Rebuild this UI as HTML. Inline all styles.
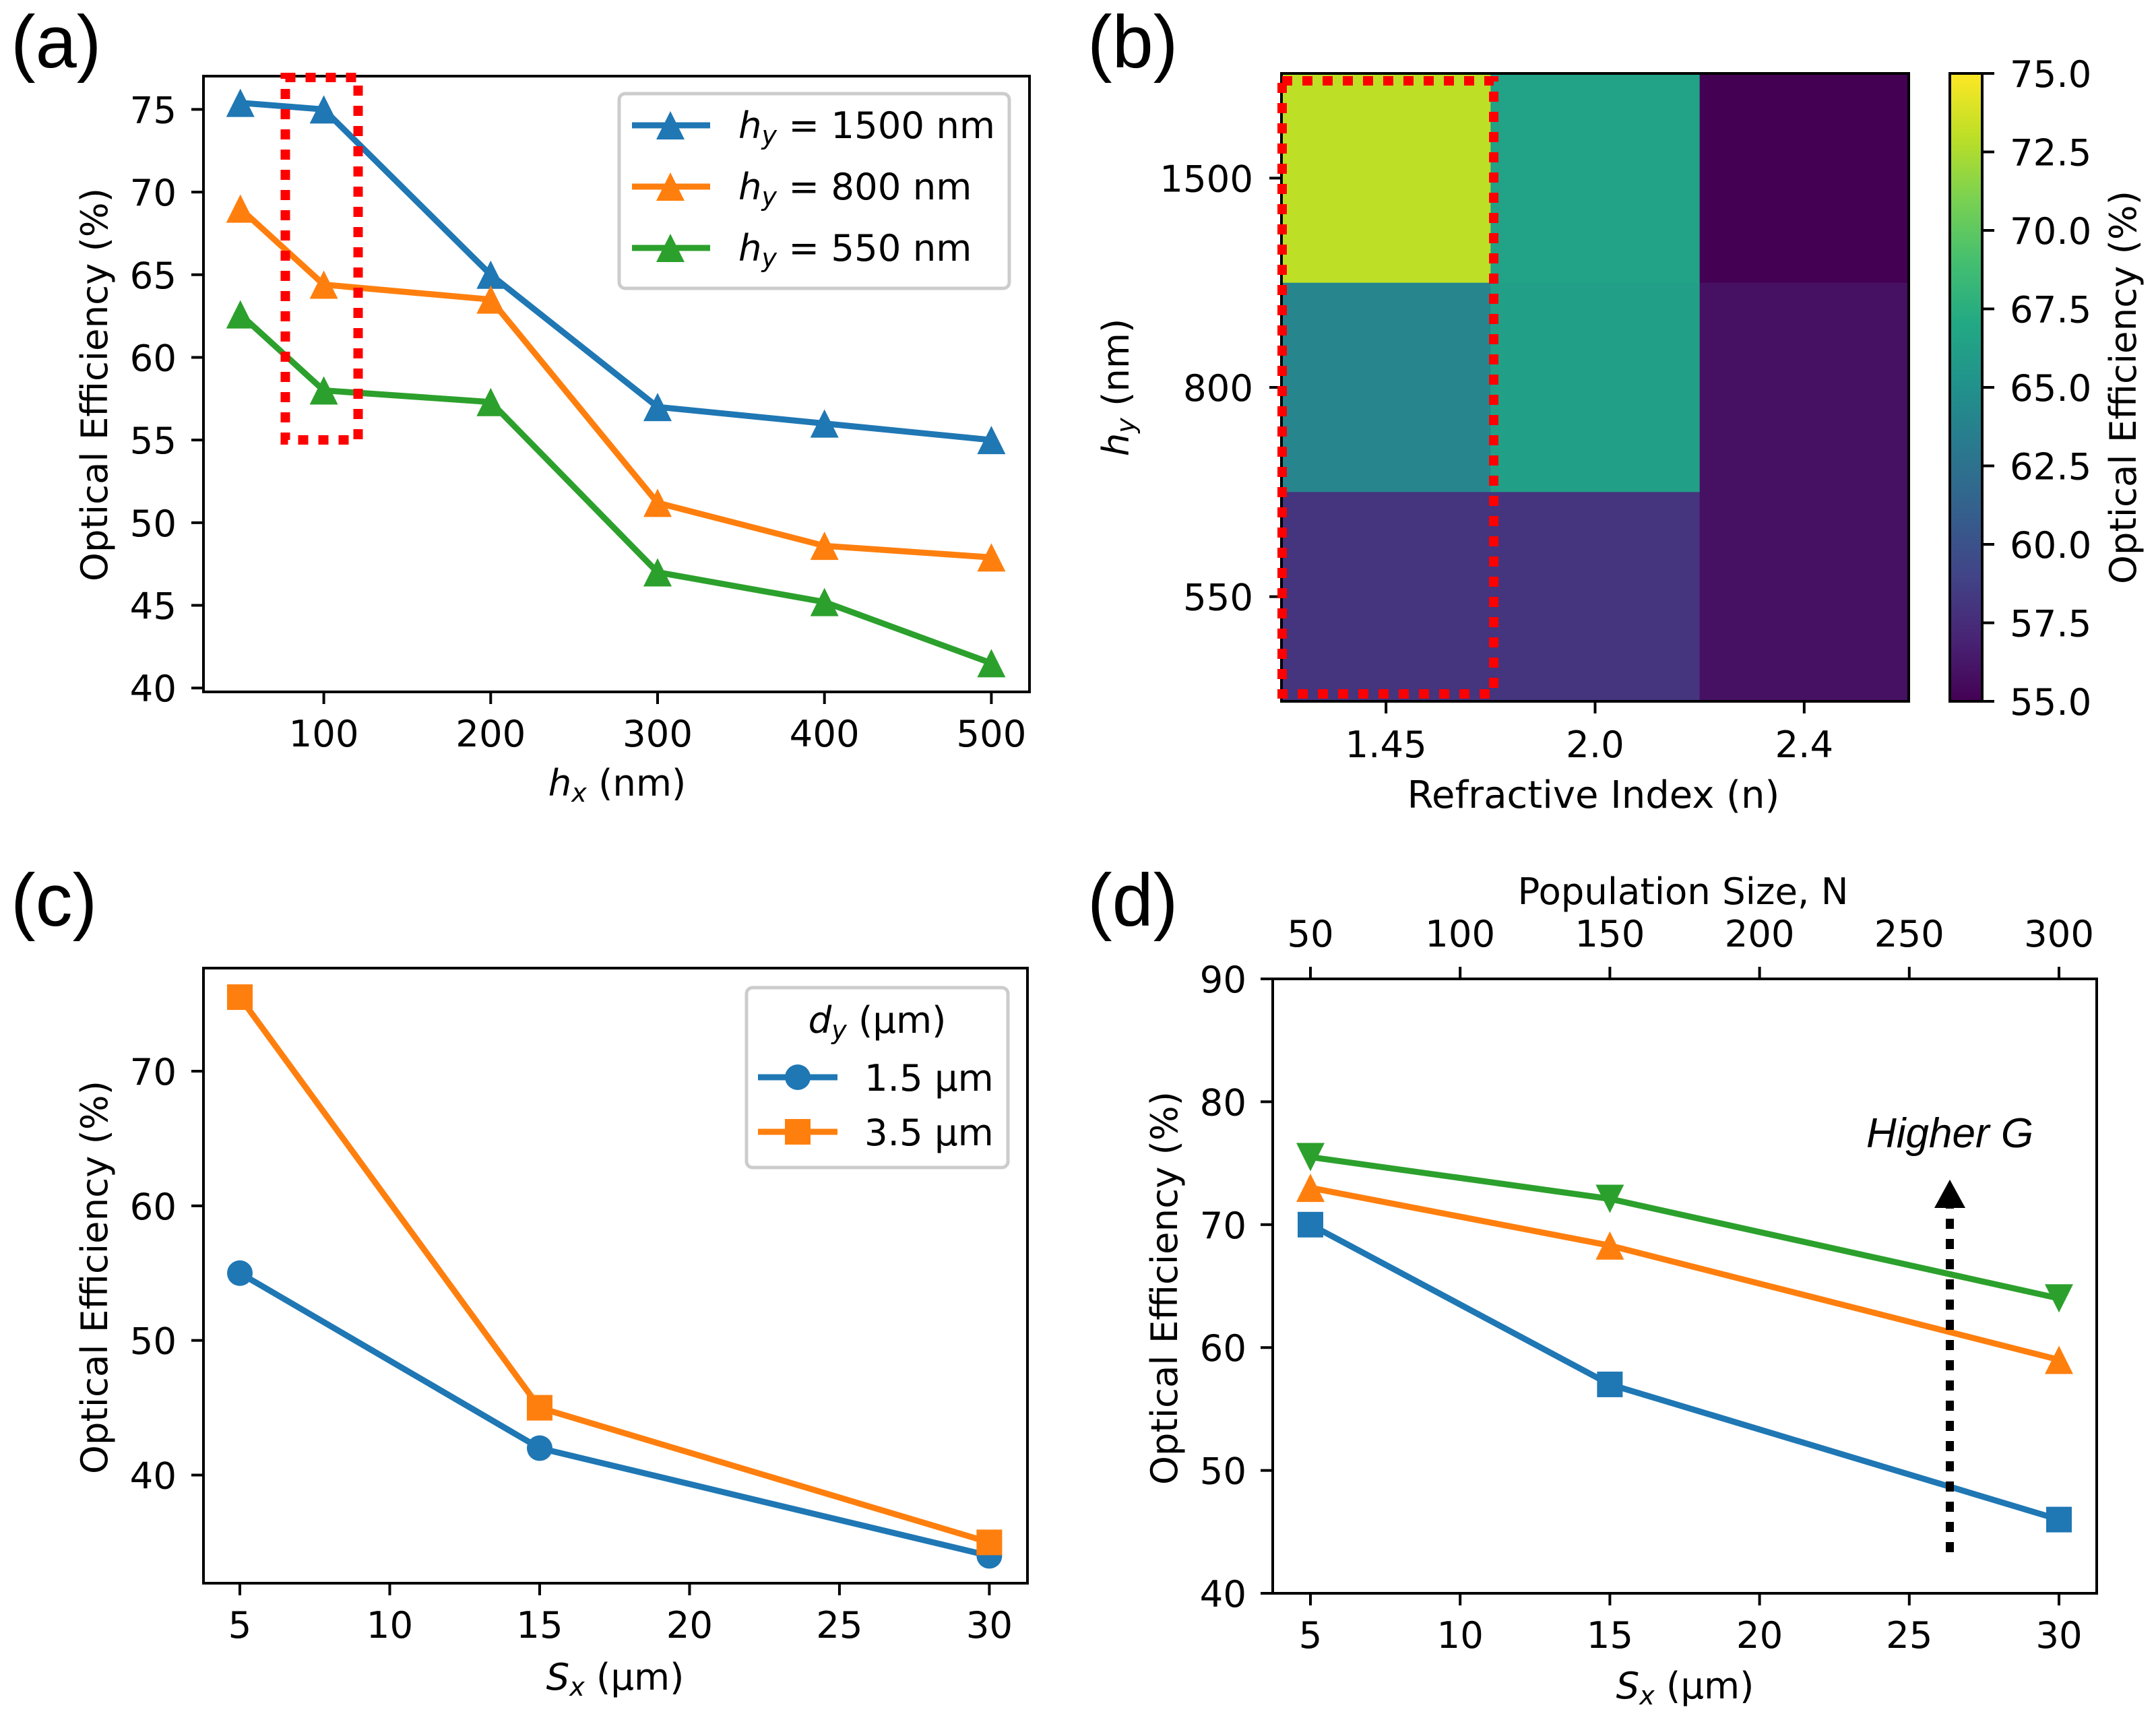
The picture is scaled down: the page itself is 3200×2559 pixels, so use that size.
<!DOCTYPE html>
<html lang="en">
<head>
<meta charset="utf-8">
<title>Optical efficiency figure</title>
<style>
html,body{margin:0;padding:0;background:#fff;width:3200px;height:2559px;overflow:hidden}
svg{display:block}
text{font-family:"DejaVu Sans",sans-serif;font-size:54.5px;fill:#000}
.panel{font-family:"Liberation Sans",sans-serif;font-size:110px}
.leg{fill:#fff;stroke:#ccc;stroke-width:5}
.i{font-style:italic}
.s{font-size:38px;font-style:italic}
</style>
</head>
<body>
<svg id="fig" xmlns="http://www.w3.org/2000/svg" width="3200" height="2559" viewBox="0 0 3200 2559">
<defs>
<linearGradient id="viridis" x1="0" y1="1" x2="0" y2="0">
<stop offset="0" stop-color="#440154"/><stop offset=".1" stop-color="#482475"/><stop offset=".2" stop-color="#414487"/><stop offset=".3" stop-color="#355f8d"/><stop offset=".4" stop-color="#2a788e"/><stop offset=".5" stop-color="#21918c"/><stop offset=".6" stop-color="#22a884"/><stop offset=".7" stop-color="#44bf70"/><stop offset=".8" stop-color="#7ad151"/><stop offset=".9" stop-color="#bddf26"/><stop offset="1" stop-color="#fde725"/>
</linearGradient>
</defs>

<g id="a"></g>
<g id="b"></g>
<g id="c"></g>
<g id="d"></g>

<!-- Panel letters -->
<text class="panel" x="16" y="100">(a)</text>
<text class="panel" x="1614" y="100">(b)</text>
<text class="panel" x="16" y="1374">(c)</text>
<text class="panel" x="1614" y="1374">(d)</text>

<!-- Axis titles -->
<text x="916" y="1181" text-anchor="middle"><tspan class="i">h</tspan><tspan class="s" dy="9">x</tspan><tspan dy="-9"> (nm)</tspan></text>
<text transform="translate(159 571) rotate(-90)" text-anchor="middle">Optical Efficiency (%)</text>

<text x="2365" y="1199" text-anchor="middle" style="font-size:56px">Refractive Index (n)</text>
<text transform="translate(1675 575) rotate(-90)" text-anchor="middle"><tspan class="i">h</tspan><tspan class="s" dy="9">y</tspan><tspan dy="-9"> (nm)</tspan></text>
<text transform="translate(3170 575) rotate(-90)" text-anchor="middle">Optical Efficiency (%)</text>

<text x="913" y="2508" text-anchor="middle"><tspan class="i">S</tspan><tspan class="s" dy="9">x</tspan><tspan dy="-9"> (µm)</tspan></text>
<text transform="translate(159 1896) rotate(-90)" text-anchor="middle">Optical Efficiency (%)</text>

<text x="2501" y="2521" text-anchor="middle"><tspan class="i">S</tspan><tspan class="s" dy="9">x</tspan><tspan dy="-9"> (µm)</tspan></text>
<text x="2498" y="1342" text-anchor="middle">Population Size, N</text>
<text transform="translate(1747 1912) rotate(-90)" text-anchor="middle">Optical Efficiency (%)</text>

<!-- Legend a -->
<g>
<rect class="leg" x="919" y="139" width="579" height="289" rx="9"/>
<g>
<line x1="938" x2="1054" y1="186" y2="186" stroke="#1f77b4" stroke-width="9"/>
<polygon points="995,165 1016,207 974,207" fill="#1f77b4"/>
<text x="1096" y="205"><tspan class="i">h</tspan><tspan class="s" dy="9">y</tspan><tspan dy="-9"> = 1500 nm</tspan></text>
</g>
<g>
<line x1="938" x2="1054" y1="277" y2="277" stroke="#ff7f0e" stroke-width="9"/>
<polygon points="995,256 1016,298 974,298" fill="#ff7f0e"/>
<text x="1096" y="296"><tspan class="i">h</tspan><tspan class="s" dy="9">y</tspan><tspan dy="-9"> = 800 nm</tspan></text>
</g>
<g>
<line x1="938" x2="1054" y1="368" y2="368" stroke="#2ca02c" stroke-width="9"/>
<polygon points="995,347 1016,389 974,389" fill="#2ca02c"/>
<text x="1096" y="387"><tspan class="i">h</tspan><tspan class="s" dy="9">y</tspan><tspan dy="-9"> = 550 nm</tspan></text>
</g>
</g>

<!-- Legend c -->
<g>
<rect class="leg" x="1108" y="1466" width="388" height="267" rx="9"/>
<text x="1302" y="1533" text-anchor="middle"><tspan class="i">d</tspan><tspan class="s" dy="9">y</tspan><tspan dy="-9"> (µm)</tspan></text>
<g>
<line x1="1125" x2="1243" y1="1599" y2="1599" stroke="#1f77b4" stroke-width="9"/>
<circle cx="1184" cy="1599" r="19" fill="#1f77b4"/>
<text x="1283" y="1619">1.5 µm</text>
</g>
<g>
<line x1="1125" x2="1243" y1="1680" y2="1680" stroke="#ff7f0e" stroke-width="9"/>
<rect x="1165" y="1661" width="38" height="38" fill="#ff7f0e"/>
<text x="1283" y="1700">3.5 µm</text>
</g>
</g>

<text x="2894" y="1703" text-anchor="middle" style="font-family:'Liberation Sans',sans-serif;font-size:62px;font-style:italic">Higher G</text>

<script>
// ---- Panel (a) data ----
const aCategories = [50, 100, 200, 300, 400, 500];
const aSeries1500 = [75.4, 75, 65, 57, 56, 55];
const aSeries800 = [69, 64.4, 63.5, 51.2, 48.6, 47.9];
const aSeries550 = [62.6, 58, 57.3, 47, 45.2, 41.5];
const aXTicks = [100, 200, 300, 400, 500];
const aYTicks = [40, 45, 50, 55, 60, 65, 70, 75];

// ---- Panel (b) data ----
const bColumns = ["1.45", "2.0", "2.4"];
const bRows = ["1500", "800", "550"];
const bRow1500 = [73, 66.5, 55];
const bRow800 = [64, 66.3, 55.9];
const bRow550 = [58, 58, 55.9];
const cbTicks = ["55.0", "57.5", "60.0", "62.5", "65.0", "67.5", "70.0", "72.5", "75.0"];
const viridisStops = ["#440154", "#482475", "#414487", "#355f8d", "#2a788e", "#21918c", "#22a884", "#44bf70", "#7ad151", "#bddf26", "#fde725"];

// ---- Panel (c) data ----
const cCategories = [5, 15, 30];
const cSeries15 = [55, 42, 34];
const cSeries35 = [75.5, 45, 35];
const cXTicks = [5, 10, 15, 20, 25, 30];
const cYTicks = [40, 50, 60, 70];

// ---- Panel (d) data ----
const dCategories = [5, 15, 30];
const dSeriesLow = [70, 57, 46];
const dSeriesMid = [73, 68.3, 59];
const dSeriesHigh = [75.5, 72.1, 64];
const dXTicks = [5, 10, 15, 20, 25, 30];
const dTopTicks = [50, 100, 150, 200, 250, 300];
const dYTicks = [40, 50, 60, 70, 80, 90];

const NS = "http://www.w3.org/2000/svg";
const BLUE = "#1f77b4", ORANGE = "#ff7f0e", GREEN = "#2ca02c";

function make(tag, attrs, parent) {
  const el = document.createElementNS(NS, tag);
  for (const k in attrs) el.setAttribute(k, attrs[k]);
  parent.appendChild(el);
  return el;
}

function linear(d0, d1, r0, r1) {
  return v => r0 + (v - d0) * (r1 - r0) / (d1 - d0);
}

function frame(parent, box, name) {
  const el = make("rect", { x: box.l, y: box.t, width: box.r - box.l, height: box.b - box.t, fill: "none", stroke: "#000", "stroke-width": 4 }, parent);
  
  
}

function xTick(parent, px, y0, dir, label, textY, name) {
  const t = make("line", { x1: px, x2: px, y1: y0, y2: y0 + dir * 18, stroke: "#000", "stroke-width": 4 }, parent);
  
  
  const s = make("text", { x: px, y: textY, "text-anchor": "middle" }, parent);
  s.textContent = label;
  
  
}

function yTick(parent, py, x0, dir, label, textX, anchor, name) {
  const t = make("line", { x1: x0, x2: x0 + dir * 18, y1: py, y2: py, stroke: "#000", "stroke-width": 4 }, parent);
  
  
  const s = make("text", { x: textX, y: py + 20, "text-anchor": anchor }, parent);
  s.textContent = label;
  
  
}

function marker(parent, kind, px, py, color, name) {
  const r = 21;
  let el;
  if (kind === "up") {
    el = make("polygon", { points: [px, py - r, px + r, py + r, px - r, py + r].join(","), fill: color }, parent);
  } else if (kind === "down") {
    el = make("polygon", { points: [px, py + r, px + r, py - r, px - r, py - r].join(","), fill: color }, parent);
  } else if (kind === "square") {
    el = make("rect", { x: px - 19, y: py - 19, width: 38, height: 38, fill: color }, parent);
  } else {
    el = make("circle", { cx: px, cy: py, r: 19, fill: color }, parent);
  }
  
  
}

function series(parent, xs, ys, sx, sy, color, kind, name) {
  const pts = xs.map((x, i) => sx(x) + "," + sy(ys[i])).join(" ");
  const pl = make("polyline", { points: pts, fill: "none", stroke: color, "stroke-width": 9, "stroke-linejoin": "round" }, parent);
  
  
  xs.forEach((x, i) => marker(parent, kind, sx(x), sy(ys[i]), color, name + '-point-' + x));
}

function dotted(parent, box, name) {
  const el = make("rect", { x: box.l, y: box.t, width: box.r - box.l, height: box.b - box.t, fill: "none", stroke: "#ff0000", "stroke-width": 14, "stroke-dasharray": "15 15" }, parent);
  
  
}

function viridis(t) {
  const p = Math.max(0, Math.min(1, t)) * (viridisStops.length - 1);
  const i = Math.min(Math.floor(p), viridisStops.length - 2);
  const f = p - i;
  const hex = s => [1, 3, 5].map(k => parseInt(s.substr(k, 2), 16));
  const A = hex(viridisStops[i]), B = hex(viridisStops[i + 1]);
  return "rgb(" + A.map((v, k) => Math.round(v + (B[k] - v) * f)).join(",") + ")";
}

// ---- Panel (a) ----
(function () {
  const g = document.getElementById("a");
  const box = { l: 302, r: 1528, t: 113, b: 1027 };
  const sx = linear(100, 500, 480.6, 1471.4);
  const sy = linear(40, 75, 1021.2, 162.4);
  series(g, aCategories, aSeries1500, sx, sy, BLUE, "up", "series-1500");
  series(g, aCategories, aSeries800, sx, sy, ORANGE, "up", "series-800");
  series(g, aCategories, aSeries550, sx, sy, GREEN, "up", "series-550");
  frame(g, box, "plot-frame-a");
  aXTicks.forEach(v => xTick(g, sx(v), box.b, 1, String(v), 1108, "x-tick-a-" + v));
  aYTicks.forEach(v => yTick(g, sy(v), box.l, -1, String(v), 262, "end", "y-tick-a-" + v));
  dotted(g, { l: 423.5, r: 531.5, t: 115, b: 653 }, "highlight-box-a");
})();

// ---- Panel (b) ----
(function () {
  const g = document.getElementById("b");
  const box = { l: 1902, r: 2833, t: 109, b: 1041 };
  const cw = (box.r - box.l) / bColumns.length, ch = (box.b - box.t) / bRows.length;
  const sc = linear(55, 75, 0, 1);
  [bRow1500, bRow800, bRow550].forEach((row, r) => {
    row.forEach((v, c) => {
      const cell = make("rect", { x: box.l + c * cw, y: box.t + r * ch, width: cw + 0.5, height: ch + 0.5, fill: viridis(sc(v)) }, g);
      
      
    });
  });
  frame(g, box, "plot-frame-b");
  bColumns.forEach((lab, c) => xTick(g, box.l + (c + 0.5) * cw, box.b, 1, lab, 1124, "x-tick-b-" + lab));
  bRows.forEach((lab, r) => yTick(g, box.t + (r + 0.5) * ch, box.l, -1, lab, 1860, "end", "y-tick-b-" + lab));
  dotted(g, { l: 1903, r: 2217, t: 120, b: 1030 }, "highlight-box-b");
  const cb = { l: 2894, r: 2942, t: 109, b: 1041 };
  const bar = make("rect", { x: cb.l, y: cb.t, width: cb.r - cb.l, height: cb.b - cb.t, fill: "url(#viridis)" }, g);
  
  
  frame(g, cb, "colorbar-frame");
  const sv = linear(55, 75, cb.b, cb.t);
  cbTicks.forEach(lab => yTick(g, sv(parseFloat(lab)), cb.r, 1, lab, 2983, "start", "colorbar-tick-" + lab));
})();

// ---- Panel (c) ----
(function () {
  const g = document.getElementById("c");
  const box = { l: 302, r: 1525, t: 1437, b: 2350 };
  const sx = linear(5, 30, 356, 1468.4);
  const sy = linear(40, 70, 2189.5, 1590);
  series(g, cCategories, cSeries15, sx, sy, BLUE, "circle", "series-1-5-um");
  series(g, cCategories, cSeries35, sx, sy, ORANGE, "square", "series-3-5-um");
  frame(g, box, "plot-frame-c");
  cXTicks.forEach(v => xTick(g, sx(v), box.b, 1, String(v), 2431, "x-tick-c-" + v));
  cYTicks.forEach(v => yTick(g, sy(v), box.l, -1, String(v), 262, "end", "y-tick-c-" + v));
})();

// ---- Panel (d) ----
(function () {
  const g = document.getElementById("d");
  const box = { l: 1889, r: 3112, t: 1453, b: 2365 };
  const sx = linear(5, 30, 1945, 3056);
  const sTop = linear(50, 300, 1945, 3056);
  const sy = linear(40, 90, 2365, 1453);
  series(g, dCategories, dSeriesLow, sx, sy, BLUE, "square", "series-low-g");
  series(g, dCategories, dSeriesMid, sx, sy, ORANGE, "up", "series-mid-g");
  series(g, dCategories, dSeriesHigh, sx, sy, GREEN, "down", "series-high-g");
  frame(g, box, "plot-frame-d");
  dXTicks.forEach(v => xTick(g, sx(v), box.b, 1, String(v), 2446, "x-tick-d-" + v));
  dTopTicks.forEach(v => xTick(g, sTop(v), box.t, -1, String(v), 1405, "top-tick-d-" + v));
  dYTicks.forEach(v => yTick(g, sy(v), box.l, -1, String(v), 1850, "end", "y-tick-d-" + v));
  const shaft = make("line", { x1: 2894, x2: 2894, y1: 2304, y2: 1792, stroke: "#000", "stroke-width": 12, "stroke-dasharray": "15 15" }, g);
  
  
  const head = make("polygon", { points: "2894,1751 2917,1793 2871,1793", fill: "#000" }, g);
  
  
})();
</script>
</svg>
</body>
</html>
